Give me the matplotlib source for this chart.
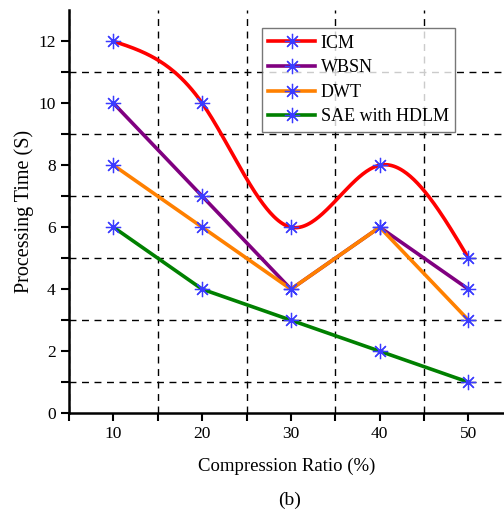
import numpy as np
import matplotlib
matplotlib.use("Agg")
import matplotlib.pyplot as plt
from matplotlib.ticker import MultipleLocator

plt.rcParams['font.family'] = ['Liberation Serif', 'DejaVu Serif']

ratio = [10, 20, 30, 40, 50]
icm = [12, 10, 6, 8, 5]
wbsn = [10, 7, 4, 6, 4]
dwt = [8, 6, 4, 6, 3]
sae = [6, 4, 3, 2, 1]


def natural_spline(x, y, n=300):
    x = np.asarray(x, float); y = np.asarray(y, float)
    k = len(x); h = np.diff(x)
    A = np.zeros((k, k)); b = np.zeros(k)
    A[0, 0] = A[-1, -1] = 1
    for i in range(1, k - 1):
        A[i, i - 1] = h[i - 1]; A[i, i] = 2 * (h[i - 1] + h[i]); A[i, i + 1] = h[i]
        b[i] = 3 * ((y[i + 1] - y[i]) / h[i] - (y[i] - y[i - 1]) / h[i - 1])
    c = np.linalg.solve(A, b)
    xs = np.linspace(x[0], x[-1], n); ys = np.empty_like(xs)
    for j, xv in enumerate(xs):
        i = min(np.searchsorted(x, xv, side='right') - 1, k - 2)
        d = xv - x[i]
        bi = (y[i + 1] - y[i]) / h[i] - h[i] * (2 * c[i] + c[i + 1]) / 3
        di = (c[i + 1] - c[i]) / (3 * h[i])
        ys[j] = y[i] + bi * d + c[i] * d ** 2 + di * d ** 3
    return xs, ys


fig = plt.figure(figsize=(5.04, 5.12), dpi=100)
ax = fig.add_axes([0.137, 0.193, 0.863, 0.787])

mk = dict(marker=(8, 2, 0), markersize=11, markeredgecolor='#3b3bff',
          markerfacecolor='#3b3bff', markeredgewidth=0.9)
lw = 2.6

xs, ys = natural_spline(ratio, icm)
ax.plot(xs, ys, color='red', lw=lw, zorder=3)
ax.plot(ratio, icm, ls='none', zorder=4, **mk)
h_icm, = ax.plot([], [], color='red', lw=lw, **mk)
h_w, = ax.plot(ratio, wbsn, color='#800080', lw=lw, zorder=3, **mk)
h_d, = ax.plot(ratio, dwt, color='#ff8000', lw=lw, zorder=3, **mk)
h_s, = ax.plot(ratio, sae, color='#008000', lw=lw, zorder=3, **mk)

ax.set_xlim(5, 54)
ax.set_ylim(0, 13)
ax.xaxis.set_major_locator(MultipleLocator(10))
ax.yaxis.set_major_locator(MultipleLocator(2))
ax.set_xticks([5, 15, 25, 35, 45], minor=True)
ax.set_yticks([1, 3, 5, 7, 9, 11], minor=True)
ax.grid(True, which='minor', color='black', ls=(0, (5, 4)), lw=1.0)
ax.grid(False, which='major')
ax.tick_params(which='both', direction='out', width=1.5, labelsize=12.5)
ax.tick_params(which='major', length=6)
ax.tick_params(which='minor', length=6)
for s in ['top', 'right']:
    ax.spines[s].set_visible(False)
for s in ['left', 'bottom']:
    ax.spines[s].set_linewidth(1.8)

ax.set_xlabel('Compression Ratio (%)', fontsize=13.5, labelpad=11)
ax.set_ylabel('Processing Time (S)', fontsize=14.5, labelpad=3)

leg = ax.legend([h_icm, h_w, h_d, h_s], ['ICM', 'WBSN', 'DWT', 'SAE with HDLM'],
                loc='upper left', bbox_to_anchor=(0.444, 0.955), borderaxespad=0,
                fontsize=13, frameon=True, fancybox=False, edgecolor='#555555',
                handlelength=2.6, borderpad=0.35, labelspacing=0.42,
                handletextpad=0.3)
leg.get_frame().set_linewidth(1.0)

fig.text(290 / 504, 1 - 500 / 512, '(b)', ha='center', va='center', fontsize=14)

fig.savefig('out.png', dpi=100)
